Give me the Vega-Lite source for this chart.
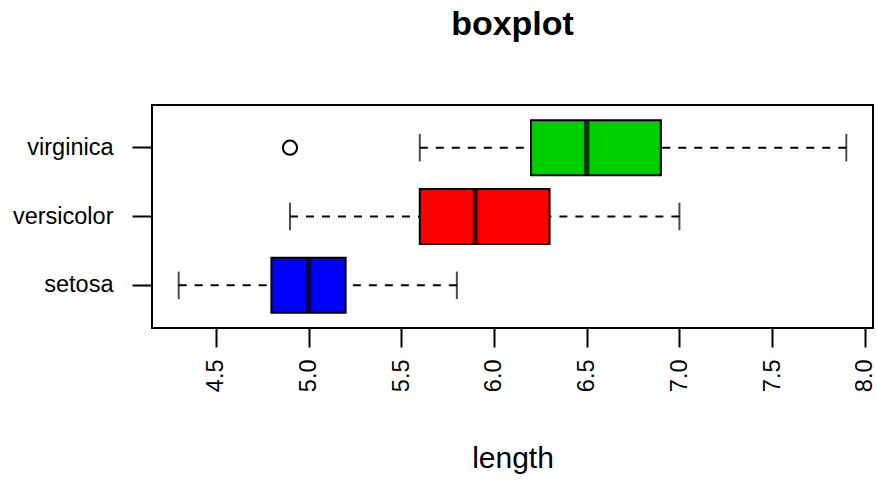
{
  "$schema": "https://vega.github.io/schema/vega-lite/v6.json",
  "width": 721,
  "height": 223,
  "autosize": {"type": "none"},
  "padding": {"left": 152, "top": 105, "right": 4, "bottom": 152},
  "background": "white",
  "config": {
    "view": {"stroke": "black", "strokeWidth": 2},
    "font": "Liberation Sans"
  },
  "title": {
    "text": "boxplot",
    "font": "Liberation Sans",
    "fontSize": 34,
    "fontWeight": "bold",
    "color": "black",
    "anchor": "middle",
    "baseline": "alphabetic",
    "offset": 36
  },
  "datasets": {
    "stats": [
      {"species": "setosa", "min": 4.3, "q1": 4.8, "median": 5.0, "q3": 5.2, "max": 5.8},
      {"species": "versicolor", "min": 4.9, "q1": 5.6, "median": 5.9, "q3": 6.3, "max": 7.0},
      {"species": "virginica", "min": 5.6, "q1": 6.2, "median": 6.5, "q3": 6.9, "max": 7.9}
    ],
    "outliers": [
      {"species": "virginica", "value": 4.9}
    ]
  },
  "data": {"name": "stats"},
  "encoding": {
    "y": {
      "field": "species",
      "type": "nominal",
      "sort": ["virginica", "versicolor", "setosa"],
      "scale": {"paddingInner": 0, "paddingOuter": 0.12},
      "axis": {
        "title": null,
        "domain": false,
        "tickSize": 20,
        "tickWidth": 2,
        "tickColor": "black",
        "labelPadding": 19,
        "labelFontSize": 23.5,
        "labelColor": "black",
        "labelFont": "Liberation Sans"
      }
    }
  },
  "layer": [
    {
      "mark": {"type": "rule", "strokeDash": [8, 8], "strokeWidth": 2, "color": "black"},
      "encoding": {
        "x": {
          "field": "min",
          "type": "quantitative",
          "scale": {"domain": [4.156, 8.044], "nice": false, "zero": false},
          "axis": {
            "values": [4.5, 5.0, 5.5, 6.0, 6.5, 7.0, 7.5, 8.0],
            "format": ".1f",
            "grid": false,
            "domain": false,
            "tickSize": 19,
            "tickWidth": 2,
            "tickColor": "black",
            "labelAngle": -90,
            "labelPadding": 12,
            "labelFontSize": 23.5,
            "labelColor": "black",
            "labelFont": "Liberation Sans",
            "title": "length",
            "titleFont": "Liberation Sans",
            "titleFontSize": 30,
            "titleFontWeight": "normal",
            "titleColor": "black",
            "titleBaseline": "alphabetic",
            "titleY": 139
          }
        },
        "x2": {"field": "q1"}
      }
    },
    {
      "mark": {"type": "rule", "strokeDash": [8, 8], "strokeWidth": 2, "color": "black"},
      "encoding": {
        "x": {"field": "max", "type": "quantitative"},
        "x2": {"field": "q3"}
      }
    },
    {
      "mark": {"type": "tick", "orient": "vertical", "size": 27.5, "thickness": 2, "color": "black"},
      "encoding": {"x": {"field": "min", "type": "quantitative"}}
    },
    {
      "mark": {"type": "tick", "orient": "vertical", "size": 27.5, "thickness": 2, "color": "black"},
      "encoding": {"x": {"field": "max", "type": "quantitative"}}
    },
    {
      "mark": {"type": "bar", "height": {"band": 0.8}, "stroke": "black", "strokeWidth": 2},
      "encoding": {
        "x": {"field": "q1", "type": "quantitative"},
        "x2": {"field": "q3"},
        "fill": {
          "field": "species",
          "type": "nominal",
          "scale": {"domain": ["setosa", "versicolor", "virginica"], "range": ["#0000FF", "#FF0000", "#00CD00"]},
          "legend": null
        }
      }
    },
    {
      "mark": {"type": "tick", "orient": "vertical", "size": 55, "thickness": 5.5, "color": "black"},
      "encoding": {"x": {"field": "median", "type": "quantitative"}}
    },
    {
      "data": {"name": "outliers"},
      "mark": {"type": "point", "shape": "circle", "filled": false, "size": 200, "stroke": "black", "strokeWidth": 2, "opacity": 1},
      "encoding": {"x": {"field": "value", "type": "quantitative"}}
    }
  ]
}
